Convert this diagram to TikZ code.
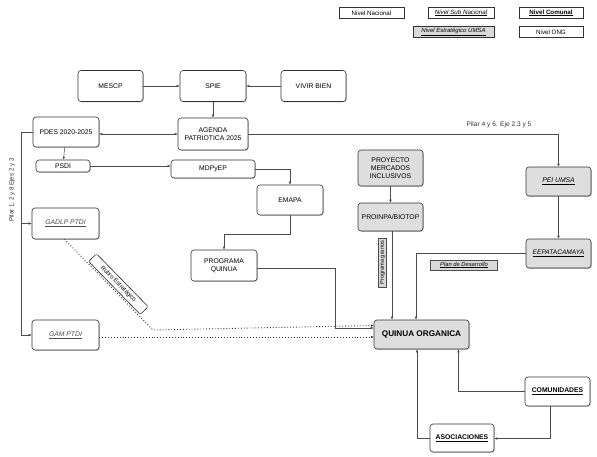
\documentclass[tikz,border=0pt]{standalone}
\usepackage{fontspec}
\setmainfont{Liberation Sans}
\usetikzlibrary{arrows.meta,shadows}
\begin{document}
\begin{tikzpicture}[x=1pt,y=-1pt,
  bx/.style={draw=black!80, line width=0.6pt, rounded corners=3pt, fill=white, align=center, inner sep=1pt,
    font=\fontsize{6.8}{7.8}\selectfont,
    drop shadow={shadow xshift=0.8pt,shadow yshift=-0.8pt,opacity=0.45}},
  gbx/.style={bx, fill=black!13},
  leg/.style={draw=black!80, line width=0.5pt, fill=white, inner sep=1pt, align=center,
    font=\fontsize{6.2}{7}\selectfont, minimum height=11pt,
    drop shadow={shadow xshift=0.7pt,shadow yshift=-0.7pt,opacity=0.45}},
  lbl/.style={solid, draw=black!70, line width=0.4pt, inner sep=1pt, font=\fontsize{5.6}{6.5}\selectfont},
  ln/.style={draw=black!70, line width=0.5pt},
  arr/.style={ln, -{Latex[length=3pt,width=2.6pt]}},
  darr/.style={ln, {Latex[length=3pt,width=2.6pt]}-{Latex[length=3pt,width=2.6pt]}},
  dotarr/.style={draw=black!80, line width=0.9pt, dotted, -{Latex[length=2.5pt,width=2.4pt]}}
]
\useasboundingbox (0,0) rectangle (597,456);

% Legend
\node[leg, minimum width=65pt] (lnac) at (371.5,13) {Nivel Nacional};
\node[leg, minimum width=66pt, font=\fontsize{6.2}{7}\selectfont\itshape] (lsub) at (461,13) {\underline{Nivel Sub Nacional}};
\node[leg, minimum width=64pt, line width=1pt, font=\fontsize{6.2}{7}\selectfont\bfseries] (lcom) at (551,13) {\underline{Nivel Comunal}};
\node[leg, minimum width=81pt, fill=black!15, font=\fontsize{6}{7}\selectfont\itshape] (lumsa) at (453.5,32) {\underline{Nivel Estratégico UMSA}};
\node[leg, minimum width=64pt] (long) at (551,32) {Nivel ONG};

% Main boxes
\node[bx, minimum width=65pt, minimum height=31pt] (mescp) at (110.5,86) {MESCP};
\node[bx, minimum width=66pt, minimum height=31pt] (spie) at (213,86) {SPIE};
\node[bx, minimum width=65pt, minimum height=31pt] (vivir) at (313.5,86) {VIVIR BIEN};
\node[bx, minimum width=70pt, minimum height=32pt] (agenda) at (213,134) {AGENDA\\PATRIOTICA 2025};
\node[bx, minimum width=66pt, minimum height=30pt] (pdes) at (66,132) {PDES 2020-2025};
\node[bx, minimum width=54pt, minimum height=12pt] (psdi) at (63,166) {PSDI};
\node[bx, minimum width=84pt, minimum height=18pt] (mdp) at (213,169) {MDPyEP};
\node[bx, minimum width=66pt, minimum height=30pt] (emapa) at (290,200) {EMAPA};
\node[bx, minimum width=66pt, minimum height=31pt] (pq) at (224,265.5) {PROGRAMA\\QUINUA};
\node[gbx, minimum width=65pt, minimum height=36pt] (proy) at (390.5,168) {PROYECTO\\MERCADOS\\INCLUSIVOS};
\node[gbx, minimum width=65pt, minimum height=28pt] (proinpa) at (390.5,217) {PROINPA/BIOTOP};
\node[gbx, minimum width=65pt, minimum height=29pt, font=\fontsize{6.8}{7.8}\selectfont\itshape] (pei) at (558.5,181.5) {\underline{PEI UMSA}};
\node[gbx, minimum width=65pt, minimum height=29pt, font=\fontsize{6.6}{7.8}\selectfont\itshape] (eepa) at (558.5,253.5) {\underline{EEPATACAMAYA}};
\node[gbx, minimum width=95pt, minimum height=29pt, font=\fontsize{8.2}{9.5}\selectfont\bfseries] (qo) at (421.5,334.5) {QUINUA ORGANICA};
\node[bx, minimum width=65pt, minimum height=29pt, font=\fontsize{6.8}{7.8}\selectfont\bfseries] (com) at (557.5,391.5) {\underline{COMUNIDADES}};
\node[bx, minimum width=64pt, minimum height=28pt, font=\fontsize{6.8}{7.8}\selectfont\bfseries] (asoc) at (462,438) {\underline{ASOCIACIONES}};
\node[bx, minimum width=67pt, minimum height=31pt, font=\fontsize{6.8}{7.8}\selectfont\itshape, text=black!70] (gadlp) at (65.5,223.5) {\underline{GADLP PTDI}};
\node[bx, minimum width=67pt, minimum height=30pt, font=\fontsize{6.8}{7.8}\selectfont\itshape, text=black!70] (gam) at (65.5,335) {\underline{GAM PTDI}};

% Labels
\node[font=\fontsize{6.6}{7.5}\selectfont, text=black!80] (pil46) at (499,125) {Pilar 4 y 6. Eje 2.3 y 5};
\node[font=\fontsize{6.2}{7}\selectfont, text=black!80, rotate=90] (pil12) at (12,190) {Pilar 1, 2 y 8 Ejes 2 y 3};
\node[lbl, fill=black!15, rotate=90, minimum width=49pt, minimum height=8pt, inner sep=0.5pt] (pgr) at (382.5,262.5) {Programa granos};
\node[lbl, fill=black!15, minimum width=67pt, minimum height=10pt, font=\fontsize{5.8}{6.5}\selectfont\itshape] (plan) at (464,265) {\underline{Plan de Desarrollo}};

% Connectors
\draw[arr] (mescp) -- (spie);
\draw[arr] (vivir) -- (spie);
\draw[arr] (spie) -- (agenda);
\draw[darr] (pdes.east |- agenda.west) -- (agenda.west);
\draw[arr] (pdes) -- (psdi);
\draw[arr] (psdi.east) -- (psdi.east -| mdp.west);
\draw[arr] (mdp.east) -| (emapa.north);
\draw[arr] (emapa.south) -- ++(0,19) -| (pq.north);
\draw[arr] ([yshift=-2.5pt]pq.east) -- ++(78,0) |- ([yshift=6.5pt]qo.west);
\draw[arr] (agenda.east) -| (pei.north);
\draw[arr] (pei) -- (eepa);
\draw[arr] (eepa.west) -| ([xshift=-5.5pt]qo.north);
\draw[arr] (proy) -- (proinpa);
\draw[arr] ([xshift=1.5pt]proinpa.south) -- ([xshift=1.5pt]proinpa.south |- qo.north);
\draw[arr] (com.west) -| ([xshift=37pt]qo.south);
\draw[arr] ([xshift=-7.5pt]com.south) |- ([yshift=-0.5pt]asoc.east);
\draw[arr] ([yshift=-0.5pt]asoc.west) -| ([xshift=-4.5pt]qo.south);

\draw[ln] (pdes.west) -- ++(-11,0) coordinate (lt);
\draw[arr] (lt) |- (gadlp.west);
\draw[arr] (lt) |- (gam.west);

\coordinate (bend) at (153,330);
\draw[dotarr] ([xshift=-1pt]gadlp.south) -- (bend) -- ([yshift=4.5pt]qo.west |- bend);
\path ([xshift=-1pt]gadlp.south) -- node[pos=0.55, sloped, above=1.5pt, lbl, fill=white, rounded corners=1.5pt, line width=0.6pt, draw=black!85, minimum width=74pt, minimum height=11pt, font=\fontsize{6}{7}\selectfont] (rubro) {Rubro Estratégico} (bend);
\draw[dotarr] ([yshift=-2pt]gam.east) -- ([yshift=-2pt]gam.east -| qo.west);
\end{tikzpicture}
\end{document}
